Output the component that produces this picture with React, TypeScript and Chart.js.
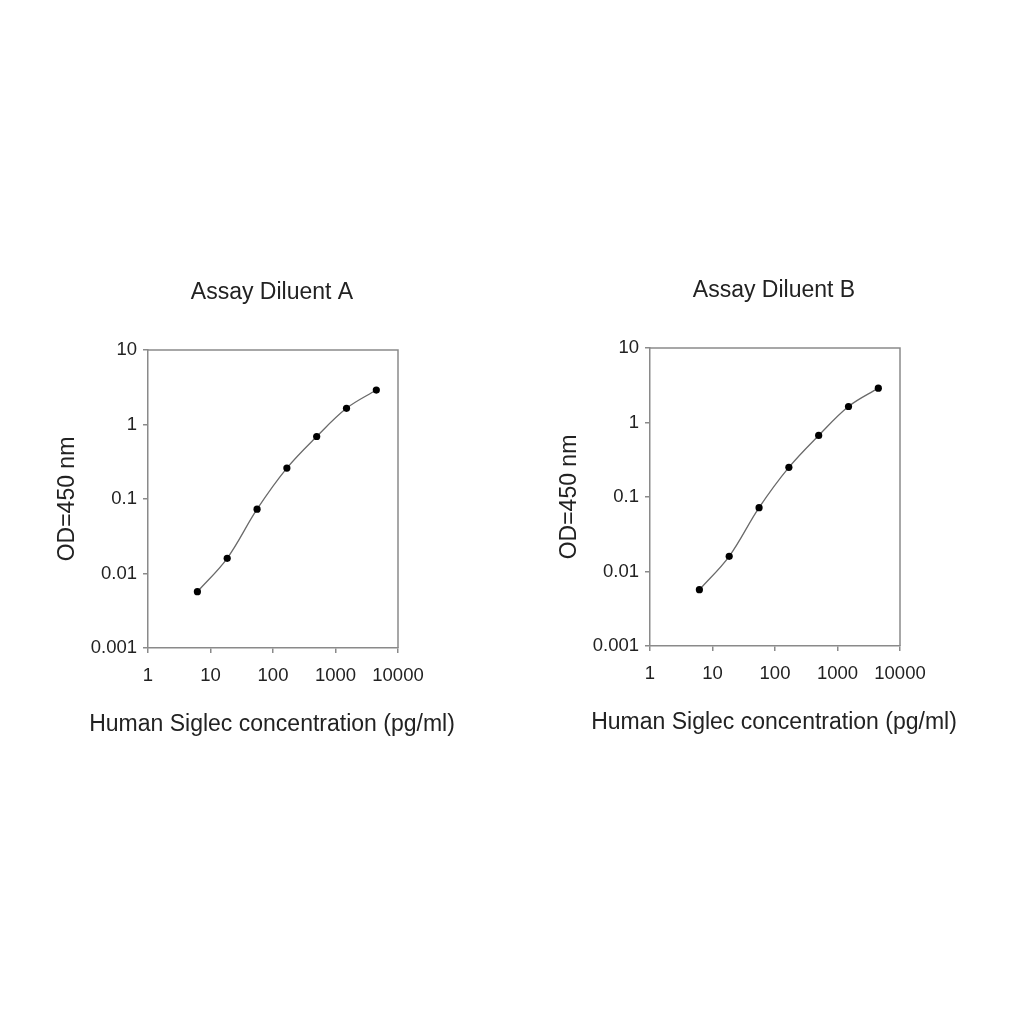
import React, { useEffect, useRef } from "react";
import { Chart, registerables } from "chart.js";

Chart.register(...registerables);

const concentration = [6.17, 18.5, 55.6, 166.7, 500, 1500, 4500];
const odA = [0.0057, 0.016, 0.073, 0.26, 0.69, 1.65, 2.9];
const odB = [0.0057, 0.016, 0.072, 0.25, 0.67, 1.64, 2.89];
const xTicks = [1, 10, 100, 1000, 10000];
const yTicks = [0.001, 0.01, 0.1, 1, 10];
const titles = ["Assay Diluent A", "Assay Diluent B"];
const xLabel = "Human Siglec concentration (pg/ml)";
const yLabel = "OD=450 nm";

const FONT = "'Liberation Sans', Arial, Helvetica, sans-serif";
const AXIS = "#8a8a8a";

const framePlugin = {
  id: "frame",
  afterDraw(chart: any) {
    const { ctx, chartArea } = chart;
    ctx.save();
    ctx.strokeStyle = AXIS;
    ctx.lineWidth = 1.5;
    ctx.beginPath();
    ctx.moveTo(chartArea.left, chartArea.top);
    ctx.lineTo(chartArea.right, chartArea.top);
    ctx.lineTo(chartArea.right, chartArea.bottom);
    ctx.stroke();
    ctx.restore();
  },
};

function makeConfig(title: string, values: number[]): any {
  return {
    type: "line",
    data: {
      datasets: [
        {
          data: concentration.map((c, i) => ({ x: c, y: values[i] })),
          borderColor: "#6a6a6a",
          borderWidth: 1.3,
          tension: 0.35,
          pointRadius: 3.6,
          pointBackgroundColor: "#000",
          pointBorderColor: "#000",
          pointBorderWidth: 0,
          fill: false,
        },
      ],
    },
    options: {
      responsive: false,
      animation: false,
      devicePixelRatio: 1,
      layout: { padding: 0 },
      plugins: {
        legend: { display: false },
        tooltip: { enabled: false },
        title: {
          display: true,
          text: title,
          color: "#222",
          font: { family: FONT, size: 23, weight: "normal" },
          padding: { top: 9.2, bottom: 43.2 },
        },
        subtitle: {
          display: true,
          position: "bottom",
          text: xLabel,
          color: "#222",
          font: { family: FONT, size: 23, weight: "normal" },
          padding: { top: 23.2, bottom: 11.2 },
        },
      },
      scales: {
        x: {
          type: "logarithmic",
          min: 1,
          max: 10000,
          afterFit: (s: any) => {
            s.height = 40;
          },
          afterBuildTicks: (s: any) => {
            s.ticks = xTicks.map((v) => ({ value: v }));
          },
          border: { display: true, color: AXIS, width: 1.5 },
          grid: {
            display: true,
            drawOnChartArea: false,
            drawTicks: true,
            tickLength: 5,
            color: AXIS,
            lineWidth: 1.5,
          },
          ticks: {
            color: "#222",
            padding: 12,
            maxRotation: 0,
            autoSkip: false,
            font: { family: FONT, size: 18.5 },
            callback: (v: any) => String(v),
          },
        },
        y: {
          type: "logarithmic",
          min: 0.001,
          max: 10,
          afterFit: (s: any) => {
            s.width = 96;
          },
          afterBuildTicks: (s: any) => {
            s.ticks = yTicks.map((v) => ({ value: v }));
          },
          border: { display: true, color: AXIS, width: 1.5 },
          grid: {
            display: true,
            drawOnChartArea: false,
            drawTicks: true,
            tickLength: 5,
            color: AXIS,
            lineWidth: 1.5,
          },
          ticks: {
            color: "#222",
            padding: 6,
            autoSkip: false,
            font: { family: FONT, size: 18.5 },
            callback: (v: any) => String(v),
          },
          title: {
            display: true,
            text: yLabel,
            color: "#222",
            font: { family: FONT, size: 23 },
            padding: { top: 2.2, bottom: 0 },
          },
        },
        spacer: {
          type: "linear",
          position: "right",
          min: 0,
          max: 1,
          afterFit: (s: any) => {
            s.width = 94;
          },
          border: { display: false },
          grid: { display: false, drawOnChartArea: false },
          ticks: { display: false },
        },
      },
    },
    plugins: [framePlugin],
  };
}

function Panel({ title, values, left, top }: { title: string; values: number[]; left: number; top: number }) {
  const ref = useRef<HTMLCanvasElement>(null);
  useEffect(() => {
    if (!ref.current) return;
    const chart = new Chart(ref.current, makeConfig(title, values));
    return () => chart.destroy();
  }, [title, values]);
  return (
    <canvas
      ref={ref}
      width={440}
      height={480}
      style={{ position: "absolute", left, top, width: 440, height: 480 }}
    />
  );
}

export default function App() {
  return (
    <div style={{ position: "absolute", left: 0, top: 0, width: 1024, height: 1024, background: "#fff" }}>
      <Panel title={titles[0]} values={odA} left={52} top={270} />
      <Panel title={titles[1]} values={odB} left={554} top={268} />
    </div>
  );
}
